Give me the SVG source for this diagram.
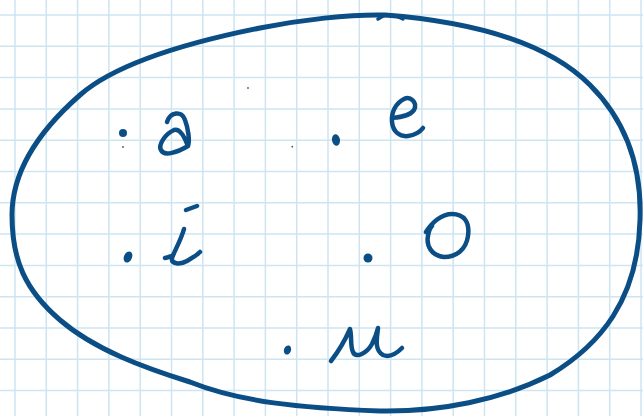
<svg xmlns="http://www.w3.org/2000/svg" width="643" height="416" viewBox="0 0 643 416">
<style>
.grid{stroke:#cde5f1;stroke-width:1.5;fill:none}
.ink{stroke:#0b4e86;fill:none;stroke-linecap:round;stroke-linejoin:round}
.outline{stroke-width:5}
.letter{stroke-width:4.5}
.dot{fill:#0b4e86}
.speck{fill:#555}
</style>
<rect width="643" height="416" fill="#ffffff"/>
<g id="grid">
<path class="grid" d="M15 0V416M46.3 0V416M77.6 0V416M108.9 0V416M140.2 0V416M171.5 0V416M202.8 0V416M234.1 0V416M265.4 0V416M296.7 0V416M328 0V416M359.3 0V416M390.6 0V416M421.9 0V416M453.2 0V416M484.5 0V416M515.8 0V416M547.1 0V416M578.4 0V416M609.7 0V416M641 0V416M0 15H643M0 46.3H643M0 77.6H643M0 108.9H643M0 140.2H643M0 171.5H643M0 202.8H643M0 234.1H643M0 265.4H643M0 296.7H643M0 328H643M0 359.3H643M0 390.6H643"/>
</g>
<g id="set-outline">
<path class="ink outline" d="M385 15 C450 20,540 35,590 85 C625 120,642 165,640 220 C638 300,600 345,550 375 C500 400,440 412,380 411 C300 408,240 402,190 382 C145 368,95 350,60 320 C25 290,12 260,12 215 C12 170,40 130,80 95 C120 60,200 40,260 28 C300 20,350 14,385 15"/>
<path class="ink" stroke-width="3.5" d="M378 19 L383 16 Q392 13 403 19"/>
</g>
<g id="element-a">
<circle class="dot" cx="123" cy="133" r="4"/>
<circle class="speck" cx="123" cy="147" r="0.9"/>
<path class="ink letter" d="M167 122 C170 112,182 110,185 120 C188 128,190 140,188 146 C185 138,180 128,174 130 C165 134,158 145,161 150 C164 157,178 152,188 146"/>
</g>
<g id="element-e">
<ellipse class="dot" cx="336" cy="140" rx="4" ry="5.8" transform="rotate(-10 336 140)"/>
<path class="ink letter" d="M392 118 C400 117,410 116,414 110 C418 102,410 96,404 99 C396 103,391 112,392 122 C393 132,400 137,408 136 C415 135,420 132,423 128"/>
</g>
<g id="element-i">
<ellipse class="dot" cx="128" cy="257" rx="4" ry="5.8" transform="rotate(25 128 257)"/>
<path class="ink letter" d="M186 210 L197 206"/>
<path class="ink letter" d="M184 229 C181 240,174 252,172 258 C171 264,180 265,187 261 C192 258,197 255,200 252"/>
<path class="ink letter" d="M165 258 Q169 257 172 256"/>
</g>
<g id="element-o">
<circle class="dot" cx="368" cy="258" r="4.5"/>
<path class="ink letter" d="M426 232 C432 222,442 214,452 214 C464 214,470 222,468 236 C466 250,456 257,444 257 C432 256,426 246,428 236 C429 230,431 227,432 226"/>
</g>
<g id="element-u">
<ellipse class="dot" cx="287.5" cy="350" rx="3.5" ry="4.7" transform="rotate(20 287.5 350)"/>
<path class="ink letter" d="M331 361 C338 352,346 338,350 329 C352 336,350 346,353 352 C356 359,367 353,372 344 C375 338,377 332,378 328 C377 338,374 350,383 355 C390 358,398 352,402 348"/>
</g>
<g id="specks">
<circle class="speck" cx="292.3" cy="146.7" r="0.9"/>
<circle class="speck" cx="248" cy="88" r="0.9"/>
</g>
</svg>
